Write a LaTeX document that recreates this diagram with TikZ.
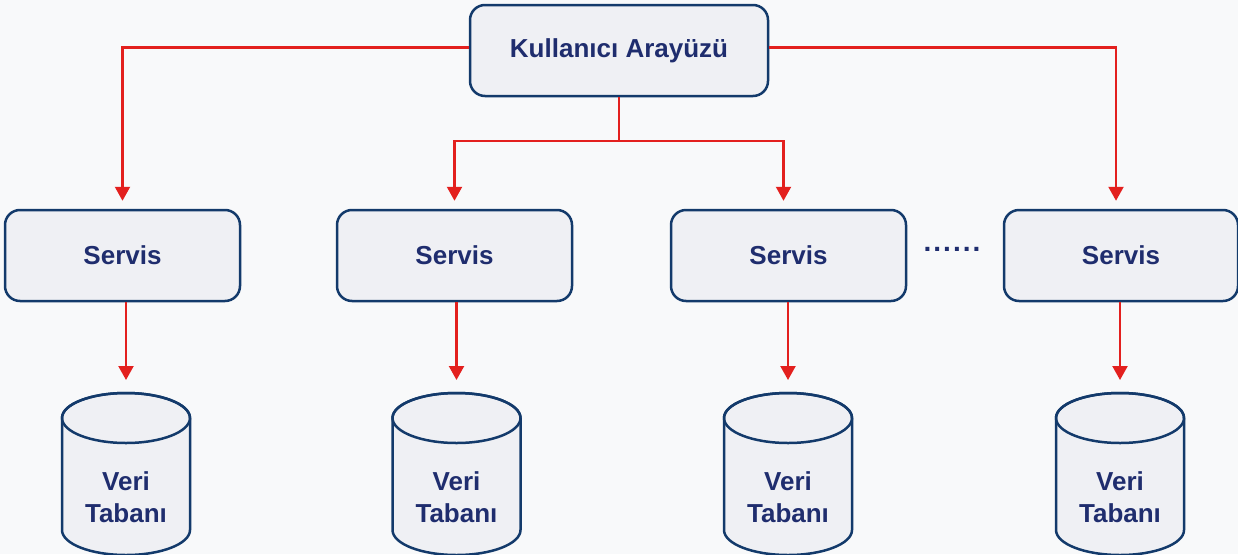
\documentclass[tikz,border=0pt]{standalone}
\usepackage{fontspec}
\setmainfont{Liberation Sans}
\usetikzlibrary{arrows.meta}
\definecolor{bg}{HTML}{F8F9FA}
\definecolor{boxfill}{HTML}{EFF0F4}
\definecolor{boxline}{HTML}{133A6B}
\definecolor{txt}{HTML}{1F2D6E}
\definecolor{arr}{HTML}{E3201E}
\begin{document}
\begin{tikzpicture}[x=1pt,y=-1pt,
  box/.style={draw=boxline, line width=2.5pt, fill=boxfill, rounded corners=15pt,
    minimum height=91pt, text=txt, font=\bfseries\fontsize{26}{30}\selectfont},
  wire/.style={draw=arr, line width=2.2pt},
  link/.style={wire, -{Triangle[width=15pt,length=14pt]}},
  dbbody/.style={draw=boxline, line width=2.5pt, fill=boxfill},
  dbtext/.style={text=txt, align=center, font=\bfseries\fontsize{26}{32}\selectfont}]
\useasboundingbox (0,0) rectangle (1238,554);
\clip (0,0) rectangle (1238,554);
\fill[bg] (0,0) rectangle (1238,554);

% top node
\node[box, minimum width=298pt] (ui) at (619,50.5) {Kullanıcı Arayüzü};

% services
\node[box, minimum width=235pt] (s1) at (122.5,255.5) {Servis};
\node[box, minimum width=235pt] (s2) at (454.5,255.5) {Servis};
\node[box, minimum width=235pt] (s3) at (788.5,255.5) {Servis};
\node[box, minimum width=234pt] (s4) at (1121,255.5) {Servis};

% dots
\node[text=txt, font=\bfseries\fontsize{28}{30}\selectfont] (dots) at (952,249)
  {.\kern2pt.\kern2pt.\kern2pt.\kern2pt.\kern2pt.};

% databases
\foreach \cx/\n in {126/1, 456.5/2, 788/3, 1120/4}{
  \path[dbbody] (\cx-64,418) -- (\cx-64,530)
     arc[start angle=180, end angle=360, x radius=64pt, y radius=25pt]
     -- (\cx+64,418)
     arc[start angle=0, end angle=180, x radius=64pt, y radius=25pt] -- cycle;
  \draw[boxline, line width=2.5pt] (\cx,418) ellipse [x radius=64pt, y radius=25pt];
  \coordinate (t\n) at (\cx,393);
  \node[dbtext] (db\n) at (\cx,497) {Veri\\Tabanı};
}

% connectors
\coordinate (j) at (619,141);
\draw[wire] (ui.south) -- (j);
\draw[link, shorten >=8pt] (j) -| (s2.north);
\draw[link, shorten >=8pt] (j) -| ([xshift=-5pt]s3.north);
\draw[link, shorten >=8pt] ([yshift=3pt]ui.west) -| (s1.north);
\draw[link, shorten >=8pt] ([yshift=3pt]ui.east) -| ([xshift=-5pt]s4.north);

\draw[link, shorten >=13pt] (s1.south -| t1) -- (t1);
\draw[link, shorten >=13pt] (s2.south -| t2) -- (t2);
\draw[link, shorten >=13pt] (s3.south -| t3) -- (t3);
\draw[link, shorten >=13pt] (s4.south -| t4) -- (t4);
\end{tikzpicture}
\end{document}
